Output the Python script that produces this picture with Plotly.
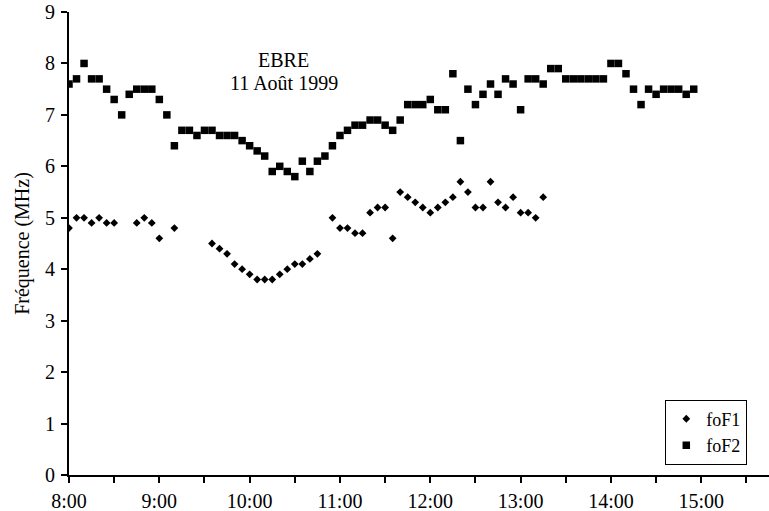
import plotly.graph_objects as go

DAY = "1999-08-11 "

# foF1 (diamonds)
fof1_times = ["08:00", "08:05", "08:10", "08:15", "08:20", "08:25", "08:30",
              "08:45", "08:50", "08:55", "09:00", "09:10",
              "09:35", "09:40", "09:45", "09:50", "09:55", "10:00", "10:05",
              "10:10", "10:15", "10:20", "10:25", "10:30", "10:35", "10:40",
              "10:45", "10:55", "11:00", "11:05", "11:10", "11:15", "11:20",
              "11:25", "11:30", "11:35", "11:40", "11:45", "11:50", "11:55",
              "12:00", "12:05", "12:10", "12:15", "12:20", "12:25", "12:30",
              "12:35", "12:40", "12:45", "12:50", "12:55", "13:00", "13:05",
              "13:10", "13:15"]
fof1_values = [4.8, 5.0, 5.0, 4.9, 5.0, 4.9, 4.9,
               4.9, 5.0, 4.9, 4.6, 4.8,
               4.5, 4.4, 4.3, 4.1, 4.0, 3.9, 3.8,
               3.8, 3.8, 3.9, 4.0, 4.1, 4.1, 4.2,
               4.3, 5.0, 4.8, 4.8, 4.7, 4.7, 5.1,
               5.2, 5.2, 4.6, 5.5, 5.4, 5.3, 5.2,
               5.1, 5.2, 5.3, 5.4, 5.7, 5.5, 5.2,
               5.2, 5.7, 5.3, 5.2, 5.4, 5.1, 5.1,
               5.0, 5.4]

# foF2 (squares)
fof2_times = ["08:00", "08:05", "08:10", "08:15", "08:20", "08:25", "08:30", "08:35", "08:40", "08:45", "08:50", "08:55",
              "09:00", "09:05", "09:10", "09:15", "09:20", "09:25", "09:30", "09:35", "09:40", "09:45", "09:50", "09:55",
              "10:00", "10:05", "10:10", "10:15", "10:20", "10:25", "10:30", "10:35", "10:40", "10:45", "10:50", "10:55",
              "11:00", "11:05", "11:10", "11:15", "11:20", "11:25", "11:30", "11:35", "11:40", "11:45", "11:50", "11:55",
              "12:00", "12:05", "12:10", "12:15", "12:20", "12:25", "12:30", "12:35", "12:40", "12:45", "12:50", "12:55",
              "13:00", "13:05", "13:10", "13:15", "13:20", "13:25", "13:30", "13:35", "13:40", "13:45", "13:50", "13:55",
              "14:00", "14:05", "14:10", "14:15", "14:20", "14:25", "14:30", "14:35", "14:40", "14:45", "14:50", "14:55"]
fof2_values = [7.6, 7.7, 8.0, 7.7, 7.7, 7.5, 7.3, 7.0, 7.4, 7.5, 7.5, 7.5,
               7.3, 7.0, 6.4, 6.7, 6.7, 6.6, 6.7, 6.7, 6.6, 6.6, 6.6, 6.5,
               6.4, 6.3, 6.2, 5.9, 6.0, 5.9, 5.8, 6.1, 5.9, 6.1, 6.2, 6.4,
               6.6, 6.7, 6.8, 6.8, 6.9, 6.9, 6.8, 6.7, 6.9, 7.2, 7.2, 7.2,
               7.3, 7.1, 7.1, 7.8, 6.5, 7.5, 7.2, 7.4, 7.6, 7.4, 7.7, 7.6,
               7.1, 7.7, 7.7, 7.6, 7.9, 7.9, 7.7, 7.7, 7.7, 7.7, 7.7, 7.7,
               8.0, 8.0, 7.8, 7.5, 7.2, 7.5, 7.4, 7.5, 7.5, 7.5, 7.4, 7.5]

title_lines = ["EBRE", "11 Août 1999"]
y_title = "Fréquence (MHz)"

FONT = "Liberation Serif, Times New Roman, serif"

fig = go.Figure()
fig.add_trace(go.Scatter(
    x=[DAY + t for t in fof1_times], y=fof1_values, mode="markers", name="foF1",
    marker=dict(symbol="diamond", size=6, color="black", line=dict(width=0)),
))
fig.add_trace(go.Scatter(
    x=[DAY + t for t in fof2_times], y=fof2_values, mode="markers", name="foF2",
    marker=dict(symbol="square", size=7.5, color="black", line=dict(width=0)),
))

fig.add_annotation(text=title_lines[0], xref="paper", yref="paper", x=0.307, y=0.8964,
                   showarrow=False, font=dict(family=FONT, size=20, color="black"),
                   xanchor="center", yanchor="middle")
fig.add_annotation(text=title_lines[1], xref="paper", yref="paper", x=0.307, y=0.847,
                   showarrow=False, font=dict(family=FONT, size=20, color="black"),
                   xanchor="center", yanchor="middle")

fig.update_layout(
    width=769, height=511,
    margin=dict(l=69, r=0, t=12, b=36, autoexpand=False),
    paper_bgcolor="white", plot_bgcolor="white",
    font=dict(family=FONT, size=20, color="black"),
    showlegend=True,
    legend=dict(
        x=0.969, y=0.163, xanchor="right", yanchor="top",
        bordercolor="black", borderwidth=1, bgcolor="white",
        font=dict(family=FONT, size=18, color="black"),
        itemwidth=30, tracegroupgap=0,
    ),
    xaxis=dict(
        type="date", automargin=False,
        range=[DAY + "08:00", DAY + "15:45"],
        dtick=3600000, tick0=DAY + "08:00",
        tickformat="%-H:%M",
        ticks="outside", ticklen=6, tickwidth=2, tickcolor="black",
        minor=dict(dtick=1800000, ticks="outside", ticklen=6, tickwidth=2, tickcolor="black"),
        showline=True, linecolor="black", linewidth=2,
        showgrid=False, zeroline=False,
        tickfont=dict(family=FONT, size=20, color="black"),
        ticklabelstandoff=1,
    ),
    yaxis=dict(
        range=[0, 9], dtick=1, automargin=False,
        ticks="outside", ticklen=6, tickwidth=2, tickcolor="black",
        showline=True, linecolor="black", linewidth=2,
        showgrid=False, zeroline=False,
        tickfont=dict(family=FONT, size=20, color="black"),
        ticklabelstandoff=2,
        title=dict(text=y_title, font=dict(family=FONT, size=20, color="black"), standoff=10),
    ),
)

fig.write_html("out.html", config={"displayModeBar": False},
               post_script="document.body.style.margin='0';document.body.style.overflow='hidden';")
